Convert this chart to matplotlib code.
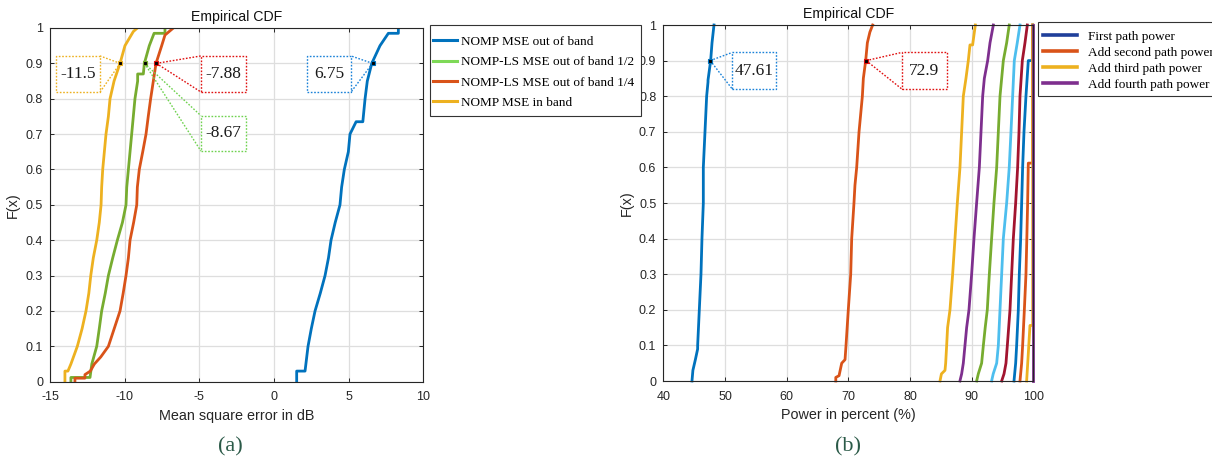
import matplotlib
matplotlib.use("Agg")
import matplotlib.pyplot as plt
from matplotlib.lines import Line2D
from matplotlib.patches import Rectangle

plt.rcParams["axes.unicode_minus"] = False

# ---------------- data : panel (a) ----------------
nomp_out_x = [1.52, 1.52, 2.08, 2.28, 2.5, 2.75, 3.1, 3.42, 3.65, 3.82, 4.1, 4.42, 4.53, 4.71,
              4.98, 5.09, 5.5, 5.95, 6.1, 6.25, 6.55, 7.1, 7.66, 8.33, 8.33]
nomp_out_F = [0, 0.03, 0.03, 0.1, 0.15, 0.2, 0.25, 0.3, 0.35, 0.4, 0.45, 0.5, 0.55, 0.6,
              0.65, 0.7, 0.735, 0.735, 0.8, 0.85, 0.9, 0.95, 0.985, 0.985, 1.0]

nompls_half_x = [-13.6, -13.6, -12.32, -12.2, -11.87, -11.7, -11.54, -11.3, -11.09, -10.8, -10.49,
                 -10.15, -9.91, -9.86, -9.75, -9.64, -9.53, -9.42, -9.31, -9.13, -9.13, -8.75,
                 -8.68, -8.35, -8.03, -7.3, -7.3]
nompls_half_F = [0, 0.012, 0.012, 0.05, 0.1, 0.15, 0.2, 0.25, 0.3, 0.35, 0.4,
                 0.45, 0.5, 0.55, 0.6, 0.65, 0.7, 0.75, 0.8, 0.85, 0.87, 0.87,
                 0.9, 0.95, 0.985, 0.985, 1.0]

nompls_quarter_x = [-13.33, -13.33, -12.66, -12.66, -12.3, -12.03, -11.6, -11.09, -10.7, -10.31,
                    -10.1, -9.91, -9.75, -9.64, -9.4, -9.19, -9.15, -9.02, -8.79, -8.57, -8.42,
                    -8.26, -8.08, -7.9, -7.52, -7.3, -6.74]
nompls_quarter_F = [0, 0.01, 0.01, 0.02, 0.03, 0.05, 0.07, 0.1, 0.15, 0.2,
                    0.25, 0.3, 0.35, 0.4, 0.45, 0.5, 0.55, 0.6, 0.65, 0.7, 0.75,
                    0.8, 0.85, 0.9, 0.95, 0.98, 1.0]

nomp_in_x = [-14.0, -14.0, -13.8, -13.6, -13.17, -12.85, -12.59, -12.4, -12.27, -12.1, -11.87,
             -11.7, -11.58, -11.54, -11.47, -11.36, -11.25, -11.09, -10.98, -10.71, -10.31,
             -9.98, -9.42, -9.15]
nomp_in_F = [0, 0.03, 0.03, 0.05, 0.1, 0.15, 0.2, 0.25, 0.3, 0.35, 0.4,
             0.45, 0.5, 0.55, 0.6, 0.65, 0.7, 0.75, 0.8, 0.85, 0.9,
             0.95, 0.99, 1.0]

labels_a = ["NOMP MSE out of band", "NOMP-LS MSE out of band 1/2",
            "NOMP-LS MSE out of band 1/4", "NOMP MSE in band"]

# ---------------- data : panel (b) ----------------
pw1_x = [44.65, 44.8, 45.2, 45.57, 45.57, 45.84, 46.11, 46.27, 46.49, 46.49, 46.76, 47.03,
         47.25, 47.25, 47.68, 47.9, 48.22]
pw1_F = [0, 0.03, 0.06, 0.09, 0.1, 0.2, 0.3, 0.4, 0.5, 0.6, 0.7, 0.8,
         0.84, 0.845, 0.9, 0.95, 1.0]
pw2_x = [67.97, 67.97, 68.5, 68.93, 69.47, 69.63, 70.0, 70.39, 70.55, 70.92, 71.08, 71.36,
         71.74, 72.28, 72.44, 72.82, 73.09, 73.5, 73.95]
pw2_F = [0, 0.01, 0.015, 0.05, 0.06, 0.1, 0.2, 0.3, 0.4, 0.5, 0.55, 0.6,
         0.7, 0.8, 0.85, 0.9, 0.95, 0.98, 1.0]
pw3_x = [84.87, 85.1, 85.68, 85.79, 85.95, 86.1, 86.49, 86.92, 87.3, 87.68, 88.11, 88.38,
         88.65, 89.08, 89.46, 89.73, 90.16, 90.6]
pw3_F = [0, 0.02, 0.03, 0.05, 0.1, 0.15, 0.2, 0.3, 0.4, 0.5, 0.6, 0.7,
         0.8, 0.85, 0.9, 0.944, 0.944, 1.0]
pw4_x = [88.1, 88.38, 88.65, 88.92, 89.19, 89.57, 90.0, 90.38, 90.81, 91.25, 91.52, 91.79,
         92.06, 92.6, 92.98, 93.52]
pw4_F = [0, 0.02, 0.05, 0.1, 0.15, 0.2, 0.3, 0.4, 0.5, 0.6, 0.7, 0.8,
         0.85, 0.9, 0.95, 1.0]
pw5_x = [90.81, 91.08, 91.62, 91.9, 92.2, 92.54, 92.87, 93.24, 93.62, 94.06, 94.33, 94.6,
         94.87, 95.14, 95.68, 96.1]
pw5_F = [0, 0.02, 0.05, 0.1, 0.15, 0.2, 0.3, 0.4, 0.5, 0.6, 0.7, 0.8,
         0.85, 0.9, 0.95, 1.0]
pw6_x = [93.24, 93.5, 94.06, 94.33, 94.6, 94.87, 95.14, 95.68, 96.1, 96.38, 96.65, 96.92,
         97.4, 97.84]
pw6_F = [0, 0.02, 0.05, 0.1, 0.2, 0.3, 0.4, 0.5, 0.6, 0.7, 0.8, 0.9, 0.95, 1.0]
pw7_x = [94.87, 95.25, 95.57, 95.79, 96.22, 96.49, 96.76, 97.14, 97.46, 97.68, 97.84, 98.22,
         98.65, 99.03]
pw7_F = [0, 0.02, 0.05, 0.1, 0.2, 0.3, 0.4, 0.5, 0.6, 0.7, 0.8, 0.9, 0.95, 1.0]
pw8_x = [96.87, 97.14, 97.3, 97.57, 97.73, 97.95, 98.11, 98.27, 98.49, 98.81, 99.19, 99.9, 99.9]
pw8_F = [0, 0.05, 0.1, 0.2, 0.3, 0.4, 0.5, 0.6, 0.7, 0.8, 0.9, 0.9, 1.0]
pw9_x = [97.84, 98.11, 98.27, 98.55, 98.81, 98.95, 99.08, 99.19, 99.9, 99.9]
pw9_F = [0, 0.05, 0.1, 0.2, 0.3, 0.4, 0.5, 0.612, 0.612, 1.0]
pw10_x = [98.92, 99.2, 99.46, 99.9, 99.9]
pw10_F = [0, 0.08, 0.156, 0.156, 1.0]
pw11_x = [99.95, 99.95]
pw11_F = [0, 1.0]

labels_b = ["First path power", "Add second path power", "Add third path power",
            "Add fourth path power"]

# ---------------- style ----------------
C_BLUE = "#0072BD"
C_ORANGE = "#D95319"
C_YELLOW = "#EDB120"
C_PURPLE = "#7E2F8E"
C_GREEN = "#77AC30"
C_CYAN = "#4DBEEE"
C_DRED = "#A2142F"

SANS = ["Liberation Sans", "DejaVu Sans"]
SERIF = ["Liberation Serif", "DejaVu Serif"]
TXT = "#262626"

W, H = 1212, 463
fig = plt.figure(figsize=(W / 100, H / 100), dpi=100)
ax1 = fig.add_axes([50 / W, 1 - 381.7 / H, 373.3 / W, 353.7 / H])
ax2 = fig.add_axes([663.3 / W, 1 - 381 / H, 370 / W, 356 / H])


def style_axes(ax, xlim, xticks, xlabel):
    ax.set_xlim(*xlim)
    ax.set_ylim(0, 1)
    ax.set_xticks(xticks)
    ax.set_yticks([i / 10 for i in range(11)])
    ax.set_yticklabels(["0"] + ["%.1f" % (i / 10) for i in range(1, 10)] + ["1"])
    ax.grid(True, color="#dedede", lw=0.9)
    ax.set_axisbelow(True)
    for s in ax.spines.values():
        s.set_color(TXT)
        s.set_linewidth(0.8)
    ax.tick_params(direction="in", length=3, width=0.7, colors=TXT, labelsize=9,
                   top=True, right=True)
    ax.tick_params(axis="x", pad=7)
    ax.tick_params(axis="y", pad=5)
    for lab in ax.get_xticklabels() + ax.get_yticklabels():
        lab.set_family(SANS)
    ax.set_title("Empirical CDF", fontsize=10.2, family=SANS, color="#111111", pad=5)
    ax.set_xlabel(xlabel, fontsize=10.4, family=SANS, color=TXT, labelpad=4)
    ax.set_ylabel("F(x)", fontsize=10.4, family=SANS, color=TXT, labelpad=4)


def datatip(ax, mx, my, box, side, color, text, mcolor):
    x0, x1, y0, y1 = box
    ls = (0, (1.2, 1.2))
    ax.add_patch(Rectangle((x0, y0), x1 - x0, y1 - y0, fill=True, facecolor="white",
                           edgecolor=color, lw=1.0, ls=ls, zorder=5))
    cx = x0 if side == "left" else x1
    for cy in (y0, y1):
        ax.plot([mx, cx], [my, cy], color=color, lw=1.0, ls=ls, zorder=5)
    ax.text((x0 + x1) / 2, (y0 + y1) / 2, text, ha="center", va="center",
            fontsize=12.5, family=SERIF, color="#1a1a1a", zorder=6)
    ax.plot([mx], [my], marker="s", ms=3.5, mfc="black", mec=mcolor, mew=0.8, zorder=7)


def frame_box(x0, y0, x1, y1):
    fig.add_artist(Rectangle((x0 / W, 1 - y1 / H), (x1 - x0) / W, (y1 - y0) / H,
                             transform=fig.transFigure, fill=True, facecolor="white",
                             edgecolor="#333333", lw=0.8, zorder=3))


# ---------------- panel (a) ----------------
style_axes(ax1, (-15, 10), [-15, -10, -5, 0, 5, 10], "Mean square error in dB")
LW = 2.0
ax1.plot(nomp_out_x, nomp_out_F, color=C_BLUE, lw=LW)
ax1.plot(nompls_half_x, nompls_half_F, color=C_GREEN, lw=LW)
ax1.plot(nompls_quarter_x, nompls_quarter_F, color=C_ORANGE, lw=LW)
ax1.plot(nomp_in_x, nomp_in_F, color=C_YELLOW, lw=LW)

datatip(ax1, -10.3, 0.9, (-14.62, -11.65, 0.819, 0.921), "right", C_YELLOW, "-11.5", C_YELLOW)
datatip(ax1, -8.67, 0.9, (-4.89, -1.89, 0.652, 0.752), "left", "#6fd24f", "-8.67", C_GREEN)
datatip(ax1, -7.88, 0.9, (-4.89, -1.89, 0.819, 0.921), "left", "#e01010", "-7.88", "#e01010")
datatip(ax1, 6.6, 0.9, (2.21, 5.16, 0.819, 0.921), "right", "#1a82d8", "6.75", C_BLUE)

frame_box(430, 25, 641, 116)
handles_a = [Line2D([], [], color=c, lw=2.2) for c in (C_BLUE, "#7ed957", C_ORANGE, C_YELLOW)]
leg1 = fig.legend(handles_a, labels_a, loc="upper left", bbox_to_anchor=(433 / W, 1 - 35.5 / H),
                  bbox_transform=fig.transFigure,
                  prop={"family": SERIF, "size": 9.5}, frameon=False,
                  handlelength=1.8, handletextpad=0.35,
                  borderpad=0, labelspacing=0.62, borderaxespad=0)
leg1.set_zorder(4)

# ---------------- panel (b) ----------------
style_axes(ax2, (40, 100), [40, 50, 60, 70, 80, 90, 100], "Power in percent (%)")
series_b = [
    (pw1_x, pw1_F, C_BLUE), (pw2_x, pw2_F, C_ORANGE), (pw3_x, pw3_F, C_YELLOW),
    (pw4_x, pw4_F, C_PURPLE), (pw5_x, pw5_F, C_GREEN), (pw6_x, pw6_F, C_CYAN),
    (pw7_x, pw7_F, C_DRED), (pw8_x, pw8_F, C_BLUE), (pw9_x, pw9_F, C_ORANGE),
    (pw10_x, pw10_F, C_YELLOW), (pw11_x, pw11_F, C_PURPLE),
]
for xs, fs, c in series_b:
    ax2.plot(xs, fs, color=c, lw=LW, clip_on=False)

datatip(ax2, 47.61, 0.9, (51.19, 58.23, 0.82, 0.923), "left", "#1a82d8", "47.61", C_BLUE)
datatip(ax2, 72.9, 0.9, (78.7, 85.95, 0.82, 0.923), "left", "#e01010", "72.9", "#e01010")

frame_box(1037.7, 22.5, 1230, 95.7)
handles_b = [Line2D([], [], color=c, lw=2.6) for c in ("#203f9a", C_ORANGE, C_YELLOW, C_PURPLE)]
leg2 = fig.legend(handles_b, labels_b, loc="upper left", bbox_to_anchor=(1043 / W, 1 - 30.5 / H),
                  bbox_transform=fig.transFigure,
                  prop={"family": SERIF, "size": 9.5}, frameon=False,
                  handlelength=2.6, handletextpad=0.8,
                  borderpad=0, labelspacing=0.29, borderaxespad=0)
leg2.set_zorder(4)

# ---------------- sub-captions ----------------
fig.text(230 / W, 1 - 447 / H, "(a)", ha="center", va="center", fontsize=16,
         family=SERIF, color="#2b5a48")
fig.text(848 / W, 1 - 447 / H, "(b)", ha="center", va="center", fontsize=16,
         family=SERIF, color="#2b5a48")

fig.savefig("out.png", dpi=100)
